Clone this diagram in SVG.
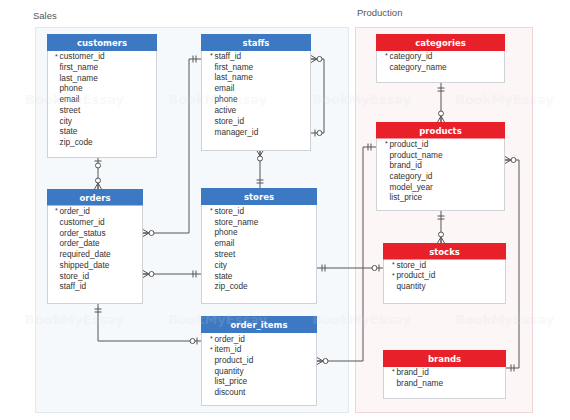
<svg xmlns="http://www.w3.org/2000/svg" width="570" height="420" viewBox="0 0 570 420">
<style>
.panel-s{fill:#f6f9fc;stroke:#e1e8f0;stroke-width:1}
.panel-p{fill:#fdf6f7;stroke:#f2d3d8;stroke-width:1}
.grp{font-family:"Liberation Sans",Arial,sans-serif;font-size:9.5px;fill:#555}
.box{fill:#fff;stroke:#cfd2d6;stroke-width:1}
.hb{fill:#3d78c2}
.hr{fill:#e8202a}
.title{font-family:"DejaVu Sans",Verdana,sans-serif;font-weight:bold;font-size:8.5px;fill:#fff;text-anchor:middle}
.f{font-family:"Liberation Sans",Arial,sans-serif;font-size:8.3px;fill:#333}
.ast{font-family:"Liberation Sans",Arial,sans-serif;font-size:7px;fill:#333}
.conn path{fill:none;stroke:#555;stroke-width:1}
.mk{fill:none;stroke:#555;stroke-width:1}
.mkc{fill:#fff;stroke:#555;stroke-width:1}
.wm{font-family:"DejaVu Sans",Verdana,sans-serif;font-weight:bold;font-size:13px;fill:#d5d9de;opacity:0.16}
</style>
<defs>
<marker id="oneOnly" markerUnits="userSpaceOnUse" viewBox="-12 -5 14 10" refX="0" refY="0" markerWidth="14" markerHeight="10" orient="auto-start-reverse" overflow="visible">
<path class="mk" d="M-5,-3.5V3.5M-8,-3.5V3.5"/>
</marker>
<marker id="zeroMany" markerUnits="userSpaceOnUse" viewBox="-12 -5 14 10" refX="0" refY="0" markerWidth="14" markerHeight="10" orient="auto-start-reverse" overflow="visible">
<path class="mk" d="M-6,0L0,-3.5M-6,0L0,3.5M-6,0H0"/>
<circle class="mkc" cx="-8.5" cy="0" r="2.5"/>
</marker>
<marker id="zeroOne" markerUnits="userSpaceOnUse" viewBox="-12 -5 14 10" refX="0" refY="0" markerWidth="14" markerHeight="10" orient="auto-start-reverse" overflow="visible">
<path class="mk" d="M-4,-3.5V3.5"/>
<circle class="mkc" cx="-8.5" cy="0" r="2.5"/>
</marker>
</defs>
<rect width="570" height="420" fill="#fff"/>
<g id="sales">
<text class="grp" x="33" y="19">Sales</text>
<rect class="panel-s" x="35.5" y="27.5" width="313" height="385"/>
</g>
<g id="production">
<text class="grp" x="357" y="15.5">Production</text>
<rect class="panel-p" x="355.5" y="27.5" width="177" height="385"/>
</g>
<g class="conn" id="connectors">
<path d="M98,157V189" marker-start="url(#zeroOne)" marker-end="url(#zeroMany)"/>
<path d="M143,233H189V59H201" marker-start="url(#zeroMany)" marker-end="url(#oneOnly)"/>
<path d="M311,59H324V133H311" marker-start="url(#zeroMany)" marker-end="url(#zeroOne)"/>
<path d="M260,150V188" marker-start="url(#zeroMany)" marker-end="url(#oneOnly)"/>
<path d="M143,274H201" marker-start="url(#zeroMany)" marker-end="url(#oneOnly)"/>
<path d="M317,268H383" marker-start="url(#oneOnly)" marker-end="url(#zeroOne)"/>
<path d="M98,304V341H201" marker-start="url(#oneOnly)" marker-end="url(#zeroOne)"/>
<path d="M317,361H363V147H376" marker-start="url(#zeroMany)" marker-end="url(#oneOnly)"/>
<path d="M441,83V122" marker-start="url(#oneOnly)" marker-end="url(#zeroMany)"/>
<path d="M441,211V243" marker-start="url(#oneOnly)" marker-end="url(#zeroMany)"/>
<path d="M505,160H519V368H506" marker-start="url(#zeroMany)" marker-end="url(#oneOnly)"/>
</g>
<g id="customers">
<rect class="box" x="47.5" y="34.5" width="109" height="123"/>
<rect class="hb" x="47" y="34" width="110" height="17"/>
<text class="title" x="102" y="46">customers</text>
<text class="ast" x="55" y="58.5">*</text>
<text class="f"><tspan x="59.5" y="59.3">customer_id</tspan><tspan x="59.5" y="70">first_name</tspan><tspan x="59.5" y="80.7">last_name</tspan><tspan x="59.5" y="91.4">phone</tspan><tspan x="59.5" y="102.1">email</tspan><tspan x="59.5" y="112.8">street</tspan><tspan x="59.5" y="123.5">city</tspan><tspan x="59.5" y="134.2">state</tspan><tspan x="59.5" y="144.9">zip_code</tspan></text>
</g>
<g id="staffs">
<rect class="box" x="201.5" y="34.5" width="109" height="116"/>
<rect class="hb" x="201" y="34" width="110" height="17"/>
<text class="title" x="256" y="46">staffs</text>
<text class="ast" x="210" y="58">*</text>
<text class="f"><tspan x="214.5" y="58.7">staff_id</tspan><tspan x="214.5" y="69.5">first_name</tspan><tspan x="214.5" y="80.4">last_name</tspan><tspan x="214.5" y="91.3">email</tspan><tspan x="214.5" y="102.1">phone</tspan><tspan x="214.5" y="113">active</tspan><tspan x="214.5" y="123.8">store_id</tspan><tspan x="214.5" y="134.7">manager_id</tspan></text>
</g>
<g id="orders">
<rect class="box" x="47.5" y="189.5" width="95" height="114"/>
<rect class="hb" x="47" y="189" width="96" height="16.5"/>
<text class="title" x="95" y="200.5">orders</text>
<text class="ast" x="55" y="213.3">*</text>
<text class="f"><tspan x="59.5" y="214">order_id</tspan><tspan x="59.5" y="224.8">customer_id</tspan><tspan x="59.5" y="235.6">order_status</tspan><tspan x="59.5" y="246.3">order_date</tspan><tspan x="59.5" y="257.1">required_date</tspan><tspan x="59.5" y="267.9">shipped_date</tspan><tspan x="59.5" y="278.6">store_id</tspan><tspan x="59.5" y="289.4">staff_id</tspan></text>
</g>
<g id="stores">
<rect class="box" x="201.5" y="188.5" width="115" height="115"/>
<rect class="hb" x="201" y="188" width="116" height="17"/>
<text class="title" x="259" y="200">stores</text>
<text class="ast" x="210" y="213">*</text>
<text class="f"><tspan x="214.5" y="213.7">store_id</tspan><tspan x="214.5" y="224.5">store_name</tspan><tspan x="214.5" y="235.3">phone</tspan><tspan x="214.5" y="246.1">email</tspan><tspan x="214.5" y="256.9">street</tspan><tspan x="214.5" y="267.7">city</tspan><tspan x="214.5" y="278.5">state</tspan><tspan x="214.5" y="289.3">zip_code</tspan></text>
</g>
<g id="order_items">
<rect class="box" x="201.5" y="316.5" width="115" height="89"/>
<rect class="hb" x="201" y="316" width="116" height="17"/>
<text class="title" x="259" y="328">order_items</text>
<text class="ast" x="210" y="341">*</text>
<text class="ast" x="210" y="351.7">*</text>
<text class="f"><tspan x="214.5" y="341.7">order_id</tspan><tspan x="214.5" y="352.4">item_id</tspan><tspan x="214.5" y="363">product_id</tspan><tspan x="214.5" y="373.7">quantity</tspan><tspan x="214.5" y="384.3">list_price</tspan><tspan x="214.5" y="395">discount</tspan></text>
</g>
<g id="categories">
<rect class="box" x="376.5" y="34.5" width="128" height="48"/>
<rect class="hr" x="376" y="34" width="129" height="17"/>
<text class="title" x="440.5" y="46">categories</text>
<text class="ast" x="385" y="58.3">*</text>
<text class="f"><tspan x="389.5" y="59">category_id</tspan><tspan x="389.5" y="70.3">category_name</tspan></text>
</g>
<g id="products">
<rect class="box" x="376.5" y="122.5" width="128" height="88"/>
<rect class="hr" x="376" y="122" width="129" height="16.5"/>
<text class="title" x="440.5" y="133.5">products</text>
<text class="ast" x="385" y="146.3">*</text>
<text class="f"><tspan x="389.5" y="147">product_id</tspan><tspan x="389.5" y="157.7">product_name</tspan><tspan x="389.5" y="168.4">brand_id</tspan><tspan x="389.5" y="179">category_id</tspan><tspan x="389.5" y="189.7">model_year</tspan><tspan x="389.5" y="200.3">list_price</tspan></text>
</g>
<g id="stocks">
<rect class="box" x="383.5" y="243.5" width="122" height="60"/>
<rect class="hr" x="383" y="243" width="123" height="16.5"/>
<text class="title" x="444.5" y="254.5">stocks</text>
<text class="ast" x="392" y="267">*</text>
<text class="ast" x="392" y="277.6">*</text>
<text class="f"><tspan x="396.5" y="267.7">store_id</tspan><tspan x="396.5" y="278.3">product_id</tspan><tspan x="396.5" y="289">quantity</tspan></text>
</g>
<g id="brands">
<rect class="box" x="383.5" y="350.5" width="122" height="48"/>
<rect class="hr" x="383" y="350" width="123" height="17"/>
<text class="title" x="444.5" y="362">brands</text>
<text class="ast" x="392" y="374.3">*</text>
<text class="f"><tspan x="396.5" y="375">brand_id</tspan><tspan x="396.5" y="386">brand_name</tspan></text>
</g>
<g id="watermark">
<text class="wm" x="25" y="104">BookMyEssay</text>
<text class="wm" x="168" y="104">BookMyEssay</text>
<text class="wm" x="312" y="104">BookMyEssay</text>
<text class="wm" x="455" y="104">BookMyEssay</text>
<text class="wm" x="25" y="324">BookMyEssay</text>
<text class="wm" x="168" y="324">BookMyEssay</text>
<text class="wm" x="312" y="324">BookMyEssay</text>
<text class="wm" x="455" y="324">BookMyEssay</text>
</g>
</svg>
